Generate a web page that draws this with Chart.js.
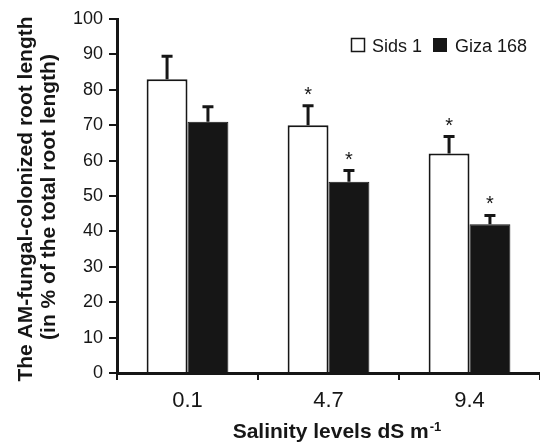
<!DOCTYPE html>
<html>
<head>
<meta charset="utf-8">
<title>AM colonization vs salinity</title>
<script src="https://cdn.jsdelivr.net/npm/chart.js@4.4.0/dist/chart.umd.min.js"></script>
<style>
    html, body { margin: 0; padding: 0; background: #fff; }
    canvas { display: block; }
</style>
</head>
<body>
<canvas id="AmChart" width="540" height="446"></canvas>
<script>
var salinityLevels = ["0.1", "4.7", "9.4"];
var sidsValues = [83, 70, 62];
var sidsErrors = [6.5, 5.5, 4.8];
var sidsSignif = [false, true, true];
var gizaValues = [71, 54, 42];
var gizaErrors = [4.2, 3.2, 2.5];
var gizaSignif = [false, true, true];
var yTicks = [0, 10, 20, 30, 40, 50, 60, 70, 80, 90, 100];

var fontFamily = "'Liberation Sans', Arial, Helvetica, sans-serif";
var ink = "#161616";

// error bars (upwards only) plus the significance stars
var errorBarPlugin = {
    id: "errorBars",
    afterDatasetsDraw: function (chart) {
        var ctx = chart.ctx;
        var yScale = chart.scales.y;
        chart.data.datasets.forEach(function (ds, i) {
            var meta = chart.getDatasetMeta(i);
            meta.data.forEach(function (bar, j) {
                var top = yScale.getPixelForValue(ds.data[j] + ds.errors[j]);
                ctx.save();
                ctx.strokeStyle = ink;
                ctx.lineWidth = 3;
                ctx.beginPath();
                ctx.moveTo(bar.x, bar.y);
                ctx.lineTo(bar.x, top);
                ctx.moveTo(bar.x - 5.5, top);
                ctx.lineTo(bar.x + 5.5, top);
                ctx.stroke();
                if (ds.signif[j]) {
                    ctx.fillStyle = ink;
                    ctx.font = "20px " + fontFamily;
                    ctx.textAlign = "center";
                    ctx.textBaseline = "alphabetic";
                    ctx.fillText("*", bar.x, top - 5);
                }
                ctx.restore();
            });
        });
    }
};

// legend, axis titles (x title has a superscript)
var textPlugin = {
    id: "texts",
    afterDraw: function (chart) {
        var ctx = chart.ctx;
        ctx.save();
        ctx.fillStyle = ink;

        // legend
        ctx.strokeStyle = ink;
        ctx.lineWidth = 1.5;
        ctx.fillStyle = "#fff";
        ctx.fillRect(351.5, 38.5, 13, 13);
        ctx.strokeRect(351.5, 38.5, 13, 13);
        ctx.fillStyle = ink;
        ctx.fillRect(433, 38, 14, 14);
        ctx.font = "18px " + fontFamily;
        ctx.textBaseline = "alphabetic";
        ctx.textAlign = "left";
        ctx.fillText(chart.data.datasets[0].label, 372, 52);
        ctx.fillText(chart.data.datasets[1].label, 455, 52);

        // x title
        var main = "Salinity levels dS m";
        var sup = "-1";
        ctx.font = "bold 21px " + fontFamily;
        var wMain = ctx.measureText(main).width;
        ctx.font = "bold 13px " + fontFamily;
        var wSup = ctx.measureText(sup).width;
        var x0 = 337 - (wMain + wSup + 1) / 2;
        ctx.font = "bold 21px " + fontFamily;
        ctx.fillText(main, x0, 438);
        ctx.font = "bold 13px " + fontFamily;
        ctx.fillText(sup, x0 + wMain + 1, 431);

        // y title, two lines
        ctx.font = "bold 21px " + fontFamily;
        ctx.textAlign = "center";
        ctx.textBaseline = "middle";
        ctx.save();
        ctx.translate(26, 199);
        ctx.rotate(-Math.PI / 2);
        ctx.fillText("The AM-fungal-colonized root length", 0, 0);
        ctx.restore();
        ctx.save();
        ctx.translate(49, 197);
        ctx.rotate(-Math.PI / 2);
        ctx.fillText("(in % of the total root length)", 0, 0);
        ctx.restore();

        ctx.restore();
    }
};

new Chart("AmChart", {
    type: "bar",
    data: {
        labels: salinityLevels,
        datasets: [
            {
                label: "Sids 1",
                data: sidsValues,
                errors: sidsErrors,
                signif: sidsSignif,
                backgroundColor: "#ffffff",
                borderColor: ink,
                borderWidth: 2,
                categoryPercentage: 0.58,
                barPercentage: 1.0
            },
            {
                label: "Giza 168",
                data: gizaValues,
                errors: gizaErrors,
                signif: gizaSignif,
                backgroundColor: ink,
                borderColor: ink,
                borderWidth: 1,
                categoryPercentage: 0.58,
                barPercentage: 1.0
            }
        ]
    },
    options: {
        responsive: false,
        animation: false,
        layout: { padding: { top: 19, right: 0, left: 0, bottom: 0 } },
        plugins: {
            legend: { display: false },
            tooltip: { enabled: false }
        },
        scales: {
            x: {
                afterFit: function (scale) { scale.height = 73; },
                grid: {
                    offset: true,
                    drawOnChartArea: false,
                    tickLength: 7,
                    color: ink,
                    lineWidth: 2
                },
                border: { display: true, color: ink, width: 3 },
                ticks: {
                    color: ink,
                    padding: 8,
                    font: { family: fontFamily, size: 22 }
                }
            },
            y: {
                min: 0,
                max: 100,
                afterFit: function (scale) { scale.width = 117; },
                afterBuildTicks: function (scale) {
                    scale.ticks = yTicks.map(function (v) { return { value: v }; });
                },
                grid: {
                    drawOnChartArea: false,
                    tickLength: 8,
                    color: ink,
                    lineWidth: 2
                },
                border: { display: true, color: ink, width: 3 },
                ticks: {
                    color: ink,
                    padding: 6,
                    font: { family: fontFamily, size: 18 }
                }
            }
        }
    },
    plugins: [errorBarPlugin, textPlugin]
});
</script>
</body>
</html>
